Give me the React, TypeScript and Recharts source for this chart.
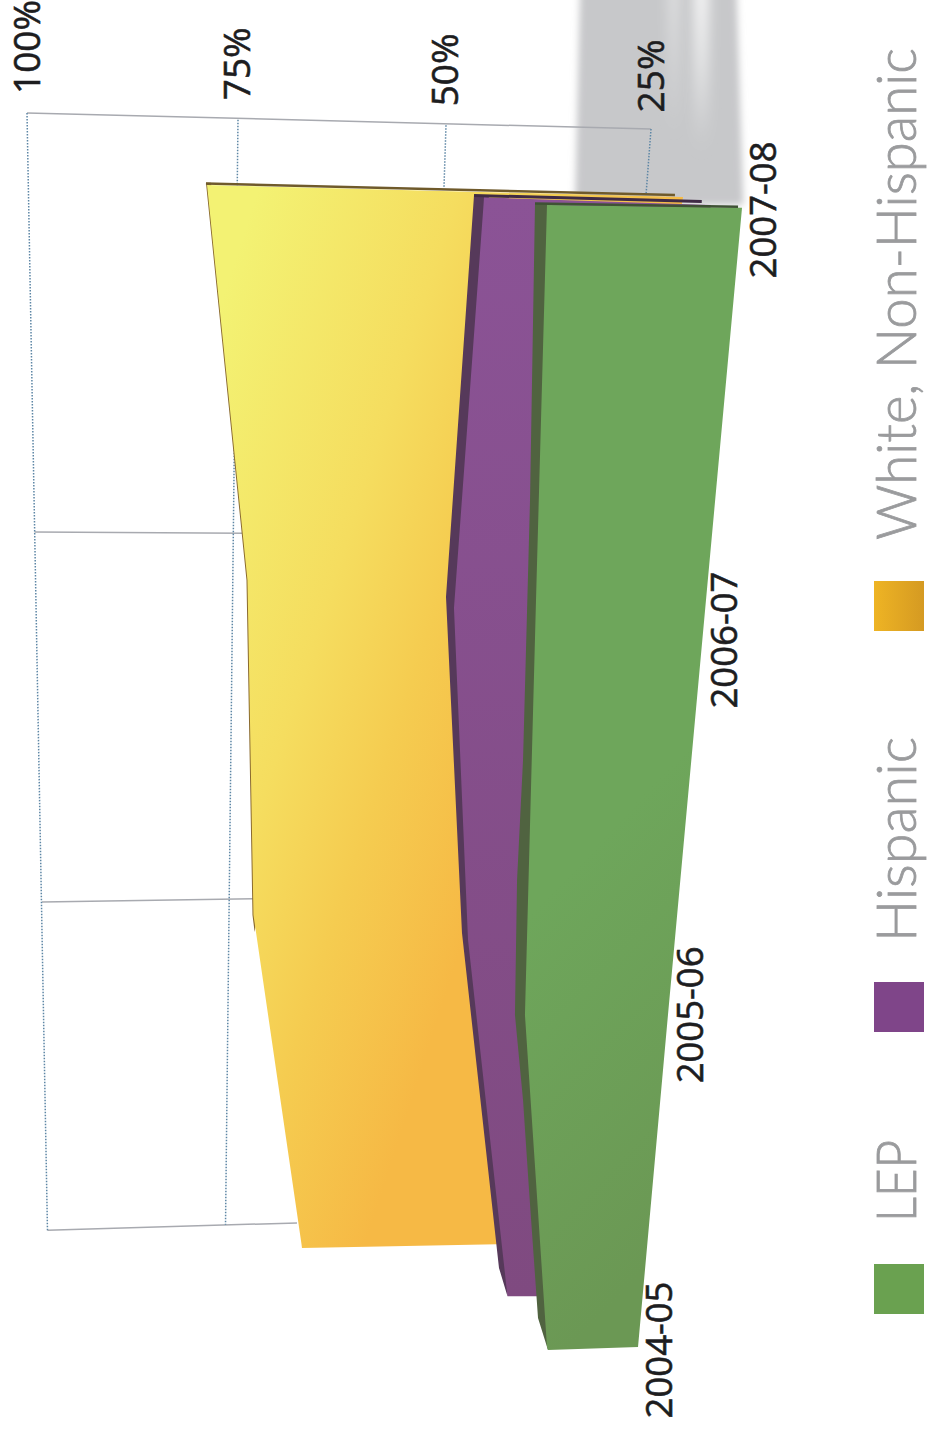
import React from "react";
import { AreaChart, Area, XAxis, YAxis, ReferenceLine, Legend } from "recharts";

const W = 929;
const H = 1431;
const MARGIN = { top: 0, right: 70, bottom: 81, left: 27 };
const LABEL_MARGIN = { top: -1, right: 70, bottom: 81, left: 26 };

// Values are read on the chart's percent axis; pos is the year axis (0 = 2004-05 front, 3 = 2007-08 front)
const WHITE_POS = [3.052, 3.021, 2.017, 1.14, 0.278, 0.267];
const WHITE_BASE = [78.36, 21.15, 28.25, 34.49, 40.75, 66.95];
const WHITE_VAL = [78.36, 78.21, 73.5, 72.78, 67.01, 66.95];
const WHITE_SIDE_POS = [3.058, 2.017, 1.14, 1.095];
const WHITE_SIDE_OUT = [78.49, 73.62, 72.9, 72.64];
const WHITE_SIDE_IN = [77.88, 73.0, 72.3, 72.64];

const HISP_POS = [3.02, 3.0, 1.944, 1.074, 0.141];
const HISP_BASE = [45.07, 17.79, 24.76, 30.41, 36.54];
const HISP_VAL = [45.07, 45.13, 48.68, 46.99, 42.25];
const HISP_SIDE_POS = [3.026, 1.973, 1.093, 0.215, 0.141];
const HISP_SIDE_OUT = [46.27, 49.64, 47.72, 43.27, 42.25];
const HISP_SIDE_IN = [44.47, 47.84, 45.91, 41.95, 42.25];

const LEP_POS = [3.0, 2.993, 1.965, 0.878, 0.008, 0];
const LEP_BASE = [37.5, 14.06, 18.39, 22.96, 26.56, 37.38];
const LEP_VAL = [37.5, 37.51, 38.82, 40.15, 37.5, 37.38];
const LEP_SIDE_POS = [3.005, 2.227, 1.546, 1.231, 0.878, 0.655, 0.419, 0.084, 0];
const LEP_SIDE_OUT = [38.94, 39.54, 40.38, 41.1, 41.35, 40.38, 39.66, 38.58, 37.38];
const LEP_SIDE_IN = [37.14, 37.74, 38.58, 39.3, 39.54, 38.58, 37.86, 36.78, 37.38];

const SHADOW_POS = [3.56, 3.0];
const SHADOW_LOW = [14.7, 13.9];
const SHADOW_HIGH = [33.53, 34.13];
const STREAK_A_POS = [3.6, 3.16];
const STREAK_A_LOW = [18.0, 18.0];
const STREAK_A_HIGH = [19.9, 19.9];
const STREAK_B_POS = [3.6, 3.2];
const STREAK_B_LOW = [21.5, 21.5];
const STREAK_B_HIGH = [23.0, 23.0];

const CATEGORIES = ["2004-05", "2005-06", "2006-07", "2007-08"];
const CATEGORY_POS = [0, 0.878, 1.86, 2.987];
const PCT_TICKS = [25, 49.64, 74.64, 100];
const PCT_LABELS = ["25%", "50%", "75%", "100%"];
const LEGEND_NAMES = ["LEP", "Hispanic", "White, Non-Hispanic"];

// [value1, pos1, value2, pos2]
const DOTTED_GRID = [
  [100, 3.241, 97.54, 0.314],
  [74.64, 3.223, 76.14, 0.328],
  [49.64, 3.209, 49.88, 3.047],
  [25, 3.199, 25.6, 3.026],
];
const SOLID_GRID = [
  [100, 3.241, 25, 3.199],
  [99.1, 2.143, 73.8, 2.14],
  [98.2, 1.174, 72.84, 1.182],
  [97.54, 0.314, 67.55, 0.333],
];
const WHITE_TOP = [78.49, 3.056, 22.12, 3.026];
const HISP_TOP = [46.27, 3.025, 18.9, 3.009];
const LEP_TOP = [38.94, 3.004, 14.54, 2.995];

const rows = (pos: number[], low: number[], high: number[]) =>
  pos.map((p, i) => ({ pos: p, range: [low[i], high[i]] }));

const Frame = (children: React.ReactNode, data: any[], key: string, axes?: React.ReactNode) => (
  <div key={key} style={{ position: "absolute", left: 0, top: 0 }}>
    <AreaChart width={W} height={H} data={data} layout="vertical" margin={axes ? LABEL_MARGIN : MARGIN}>
      {axes ?? (
        <XAxis type="number" dataKey="range" domain={[0, 100]} reversed hide allowDataOverflow />
      )}
      {axes ? null : (
        <YAxis type="number" dataKey="pos" domain={[0, 3.537]} reversed hide allowDataOverflow />
      )}
      {children}
    </AreaChart>
  </div>
);

const seg = (s: number[], stroke: string, width: number, dash?: string, key?: string) => (
  <ReferenceLine
    key={key}
    segment={[
      { x: s[0], y: s[1] },
      { x: s[2], y: s[3] },
    ]}
    stroke={stroke}
    strokeWidth={width}
    strokeDasharray={dash}
    ifOverflow="visible"
  />
);

const PctTick = (props: any) => {
  const { x, payload, index } = props;
  const bottom = 94 + (100 - payload.value) * 0.245;
  const bx = x + 12.5;
  return (
    <text
      transform={`translate(${bx},${bottom}) rotate(-90)`}
      fontFamily="'Open Sans'"
      fontSize={37}
      fill="#1d1d1f"
      stroke="#1d1d1f"
      strokeWidth={0.6}
    >
      {PCT_LABELS[index]}
    </text>
  );
};

const CatTick = (props: any) => {
  const { y, payload } = props;
  const bx = 775.5 - 0.0904 * (y - 210);
  const i = CATEGORY_POS.indexOf(payload.value);
  return (
    <text
      transform={`translate(${bx},${y}) rotate(-90)`}
      fontFamily="'Open Sans'"
      fontSize={36.5}
      fill="#1d1d1f"
      stroke="#1d1d1f"
      strokeWidth={0.6}
      textAnchor="middle"
    >
      {CATEGORIES[i]}
    </text>
  );
};

const LegendBox = () => {
  const items = [
    { name: LEGEND_NAMES[0], fill: "#6aa150", top: 1264, base: 1222, len: 82 },
    { name: LEGEND_NAMES[1], fill: "#7f4589", top: 982, base: 942, len: 205 },
    { name: LEGEND_NAMES[2], fill: "url(#legendGold)", top: 581, base: 540, len: 492 },
  ];
  return (
    <svg width={W} height={H} style={{ display: "block" }}>
      <defs>
        <linearGradient id="legendGold" x1="0" y1="0" x2="1" y2="0">
          <stop offset="0" stopColor="#eeb424" />
          <stop offset="1" stopColor="#d59a22" />
        </linearGradient>
      </defs>
      {items.map((it) => (
        <g key={it.name}>
          <rect x={874} y={it.top} width={50} height={50} fill={it.fill} />
          <text
            transform={`translate(916,${it.base}) rotate(-90)`}
            fontFamily="Lato"
            fontWeight={300}
            fontSize={55}
            fill="#9a9b9d"
            stroke="#9a9b9d"
            strokeWidth={0.8}
            textLength={it.len}
            lengthAdjust="spacingAndGlyphs"
          >
            {it.name}
          </text>
        </g>
      ))}
    </svg>
  );
};

export default function App() {
  return (
    <div style={{ position: "absolute", left: 0, top: 0, width: W, height: H, background: "#fff", overflow: "hidden" }}>
      {Frame(
        <>
          <defs>
            <filter id="blur" x="-20%" y="-5%" width="140%" height="110%">
              <feGaussianBlur stdDeviation="3.5" />
            </filter>
            <filter id="blurWide" x="-300%" y="-20%" width="700%" height="140%">
              <feGaussianBlur stdDeviation="6 12" />
            </filter>
            <linearGradient id="streak" x1="0" y1="0" x2="0" y2="1">
              <stop offset="0" stopColor="#fff" stopOpacity={0.85} />
              <stop offset="0.5" stopColor="#fff" stopOpacity={0.5} />
              <stop offset="1" stopColor="#fff" stopOpacity={0} />
            </linearGradient>
            <linearGradient id="streak2" x1="0" y1="0" x2="0" y2="1">
              <stop offset="0" stopColor="#fff" stopOpacity={0.45} />
              <stop offset="1" stopColor="#fff" stopOpacity={0} />
            </linearGradient>
          </defs>
          <Area data={rows(SHADOW_POS, SHADOW_LOW, SHADOW_HIGH)} dataKey="range" stroke="none" fill="#c7c8ca" fillOpacity={1} filter="url(#blur)" isAnimationActive={false} dot={false} activeDot={false} />
          <Area data={rows(STREAK_A_POS, STREAK_A_LOW, STREAK_A_HIGH)} dataKey="range" stroke="none" fill="url(#streak)" fillOpacity={1} filter="url(#blurWide)" isAnimationActive={false} dot={false} activeDot={false} />
          <Area data={rows(STREAK_B_POS, STREAK_B_LOW, STREAK_B_HIGH)} dataKey="range" stroke="none" fill="url(#streak2)" fillOpacity={1} filter="url(#blurWide)" isAnimationActive={false} dot={false} activeDot={false} />
          {SOLID_GRID.map((s, i) => seg(s, "#a8aab0", 1.5, undefined, "s" + i))}
          {DOTTED_GRID.map((s, i) => seg(s, "#5d86a5", 1.5, "1.5 1.5", "d" + i))}
        </>,
        rows(SHADOW_POS, SHADOW_LOW, SHADOW_HIGH),
        "grid"
      )}
      {Frame(
        <>
          <defs>
            <linearGradient id="gWhite" x1="0.03" y1="0.11" x2="0.65" y2="0.555">
              <stop offset="0" stopColor="#f3f273" />
              <stop offset="0.45" stopColor="#f5dd5f" />
              <stop offset="0.7" stopColor="#f5cc50" />
              <stop offset="1" stopColor="#f6b945" />
            </linearGradient>
          </defs>
          <Area data={rows(WHITE_SIDE_POS, WHITE_SIDE_IN, WHITE_SIDE_OUT)} dataKey="range" stroke="none" fill="#8a6a2e" fillOpacity={1} isAnimationActive={false} dot={false} activeDot={false} />
          <Area data={rows(WHITE_POS, WHITE_BASE, WHITE_VAL)} dataKey="range" name="White, Non-Hispanic" stroke="none" fill="url(#gWhite)" fillOpacity={1} isAnimationActive={false} dot={false} activeDot={false} />
          {seg(WHITE_TOP, "#6f5a2b", 2.5)}
        </>,
        rows(WHITE_POS, WHITE_BASE, WHITE_VAL),
        "white"
      )}
      {Frame(
        <>
          <defs>
            <linearGradient id="gHisp" x1="0" y1="0" x2="0" y2="1">
              <stop offset="0" stopColor="#8b5396" />
              <stop offset="1" stopColor="#7f4a80" />
            </linearGradient>
          </defs>
          <Area data={rows(HISP_SIDE_POS, HISP_SIDE_IN, HISP_SIDE_OUT)} dataKey="range" stroke="none" fill="#56395a" fillOpacity={1} isAnimationActive={false} dot={false} activeDot={false} />
          <Area data={rows(HISP_POS, HISP_BASE, HISP_VAL)} dataKey="range" name="Hispanic" stroke="none" fill="url(#gHisp)" fillOpacity={1} isAnimationActive={false} dot={false} activeDot={false} />
          {seg(HISP_TOP, "#3f2a45", 3)}
        </>,
        rows(HISP_POS, HISP_BASE, HISP_VAL),
        "hisp"
      )}
      {Frame(
        <>
          <defs>
            <linearGradient id="gLep" x1="0" y1="0" x2="0.2" y2="1">
              <stop offset="0" stopColor="#6ea65b" />
              <stop offset="0.6" stopColor="#6ea65b" />
              <stop offset="1" stopColor="#6b9854" />
            </linearGradient>
          </defs>
          <Area data={rows(LEP_SIDE_POS, LEP_SIDE_IN, LEP_SIDE_OUT)} dataKey="range" stroke="none" fill="#506340" fillOpacity={1} isAnimationActive={false} dot={false} activeDot={false} />
          <Area data={rows(LEP_POS, LEP_BASE, LEP_VAL)} dataKey="range" name="LEP" stroke="none" fill="url(#gLep)" fillOpacity={1} isAnimationActive={false} dot={false} activeDot={false} />
          {seg(LEP_TOP, "#3f5235", 2.5)}
        </>,
        rows(LEP_POS, LEP_BASE, LEP_VAL),
        "lep"
      )}
      {Frame(
        null,
        rows(LEP_POS, LEP_BASE, LEP_VAL),
        "labels",
        <>
          <XAxis type="number" orientation="top" domain={[0, 100]} reversed height={1} ticks={PCT_TICKS} interval={0} axisLine={false} tickLine={false} tick={<PctTick />} allowDataOverflow />
          <YAxis type="number" dataKey="pos" domain={[0, 3.537]} reversed width={1} ticks={CATEGORY_POS} interval={0} axisLine={false} tickLine={false} tick={<CatTick />} allowDataOverflow />
          <Area dataKey="range" stroke="none" fill="none" isAnimationActive={false} dot={false} activeDot={false} legendType="none" />
        </>
      )}
      {Frame(
        <Legend content={<LegendBox />} wrapperStyle={{ position: "absolute", left: 0, top: 0, width: W, height: H, bottom: "auto", right: "auto" }} />,
        rows(LEP_POS, LEP_BASE, LEP_VAL),
        "legend"
      )}
    </div>
  );
}
